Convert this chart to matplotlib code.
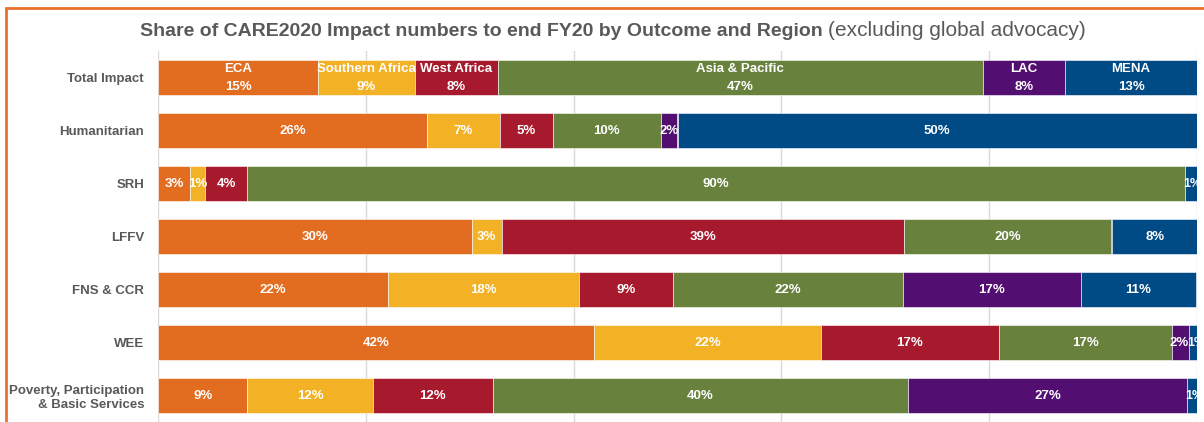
import matplotlib
matplotlib.use("Agg")
import matplotlib.pyplot as plt
from matplotlib.patches import Rectangle
import numpy as np

plt.rcParams['font.family'] = ['Liberation Sans', 'DejaVu Sans']

categories = ["Total Impact", "Humanitarian", "SRH", "LFFV", "FNS & CCR", "WEE",
              "Poverty, Participation\n& Basic Services"]
regions = ["ECA", "Southern Africa", "West Africa", "Asia & Pacific", "LAC", "MENA"]
colors = ["#E26C20", "#F3B126", "#A7192D", "#68813D", "#520E70", "#004A86"]

eca = [15.4, 25.9, 3.1, 30.2, 22.1, 42.0, 8.6]
southern_africa = [9.3, 7.0, 1.4, 2.9, 18.4, 21.8, 12.1]
west_africa = [8.0, 5.1, 4.1, 38.7, 9.1, 17.1, 11.5]
asia_pacific = [46.7, 10.4, 90.2, 19.9, 22.1, 16.7, 40.0]
lac = [7.9, 1.6, 0.0, 0.1, 17.1, 1.6, 26.8]
mena = [12.7, 50.0, 1.2, 8.3, 11.1, 0.8, 1.0]

series = [eca, southern_africa, west_africa, asia_pacific, lac, mena]

fig = plt.figure(figsize=(12.04, 4.22), dpi=100)
ax = fig.add_axes([158/1204, 0, (1197-158)/1204, 1 - 51/422])

y = np.arange(len(categories))
left = np.zeros(len(categories))
nser = len(series)
for k, (name, vals, col) in enumerate(zip(regions, series, colors)):
    vals = np.array(vals)
    ax.barh(y, vals, left=left, height=0.66, color=col, edgecolor='white',
            linewidth=0.4, zorder=3)
    for i, v in enumerate(vals):
        if v < 0.5:
            continue
        pct = f"{int(round(v))}%"
        fs = 9.5
        if i == 0:
            ax.text(left[i] + v / 2, y[i] - 0.16, name, ha='center', va='center',
                    color='white', fontsize=fs, fontweight='bold', zorder=4)
            ax.text(left[i] + v / 2, y[i] + 0.17, pct, ha='center', va='center',
                    color='white', fontsize=fs, fontweight='bold', zorder=4)
            continue
        if v < 2.5 and k == nser - 1:
            x, ha, fsz = left[i] - 0.1, 'left', 9
        elif v < 2.5 and k < nser - 1 and series[k + 1][i] < 2.5:
            x, ha, fsz = left[i] + v, 'right', 9.5
        else:
            x, ha, fsz = left[i] + v / 2, 'center', 9.5
        ax.text(x, y[i], pct, ha=ha, va='center', color='white', fontsize=fsz,
                fontweight='bold', zorder=4, clip_on=False)
    left += vals

ax.set_xlim(0, 100)
ax.set_ylim(len(categories) - 0.5, -0.5)
ax.set_yticks(y)
ax.set_yticklabels(categories, fontsize=9.5, fontweight='bold', color='#595959')
ax.tick_params(axis='y', length=0, pad=10)
ax.tick_params(axis='x', length=0, labelbottom=False)
ax.set_xticks(np.arange(0, 101, 20))
ax.grid(axis='x', color='#D9D9D9', linewidth=1, zorder=0)
for s in ax.spines.values():
    s.set_visible(False)

fig.text(823/1204, 1 - 31/422, "Share of CARE2020 Impact numbers to end FY20 by Outcome and Region",
         ha='right', va='center', fontsize=14, fontweight='bold', color='#595959')
fig.text(828/1204, 1 - 31/422, "(excluding global advocacy)",
         ha='left', va='center', fontsize=15, color='#595959')

fig.patches.append(Rectangle((5.5/1204, -0.1), 1.2, 1 - 7.5/422 + 0.1,
                             transform=fig.transFigure, fill=False,
                             edgecolor='#E9712B', linewidth=2, zorder=10))

fig.savefig("out.png", dpi=100)
